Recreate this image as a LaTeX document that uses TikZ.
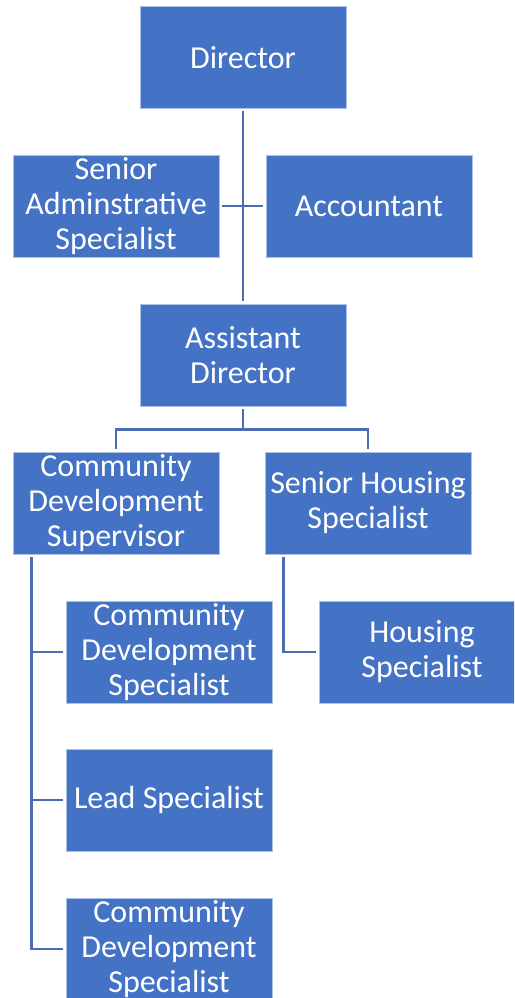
\documentclass[tikz,border=0pt]{standalone}
\usepackage{fontspec}
\setmainfont{Carlito}
\usetikzlibrary{positioning,calc}
\definecolor{boxblue}{HTML}{4472C4}
\definecolor{lineblue}{HTML}{4A6DB3}
\tikzset{
  post/.style={fill=boxblue,draw=white!55!boxblue,line width=0.8pt,text=white,
    minimum width=206pt,minimum height=102pt,inner sep=0pt,align=center,
    font=\fontsize{32}{35}\selectfont},
  conn/.style={draw=lineblue,line width=2.5pt,shorten <=2.5pt,shorten >=2.5pt}
}
\begin{document}
\begin{tikzpicture}[x=1pt,y=-1pt]
  \useasboundingbox (0,0) rectangle (514,998);
  \clip (0,0) rectangle (514,998);
  % top level
  \node[post] (dir) at (243,57.5) {Director};
  \node[post] (sas) at (116,206) {Senior\\Adminstrative\\Specialist};
  \node[post] (acc) at (369,206) {Accountant};
  \node[post] (adir) at (243,355) {Assistant\\Director};
  % second level
  \node[post] (cds) at (116,503) {Community\\Development\\Supervisor};
  \node[post] (shs) at (368,503) {Senior Housing\\Specialist};
  % staff
  \node[post] (cdsa) at (169,652) {Community\\Development\\Specialist};
  \node[post] (lead) at (169,800) {Lead Specialist};
  \node[post] (cdsb) at (169,949) {Community\\Development\\Specialist};
  \node[post] (hs) at (422,652) {Housing\\Specialist};
  % connectors
  \draw[conn] (dir.south) -- (adir.north);
  \draw[conn] (sas.east) -- (acc.west);
  \draw[conn] (adir.south) -- ++(0,23) -| (cds.north);
  \draw[conn] (adir.south) -- ++(0,23) -| (shs.north);
  \foreach \n in {cdsa,lead,cdsb}
    \draw[conn] ([xshift=19pt]cds.south west) |- (\n.west);
  \draw[conn] ([xshift=19pt]shs.south west) |- (hs.west);
\end{tikzpicture}
\end{document}
